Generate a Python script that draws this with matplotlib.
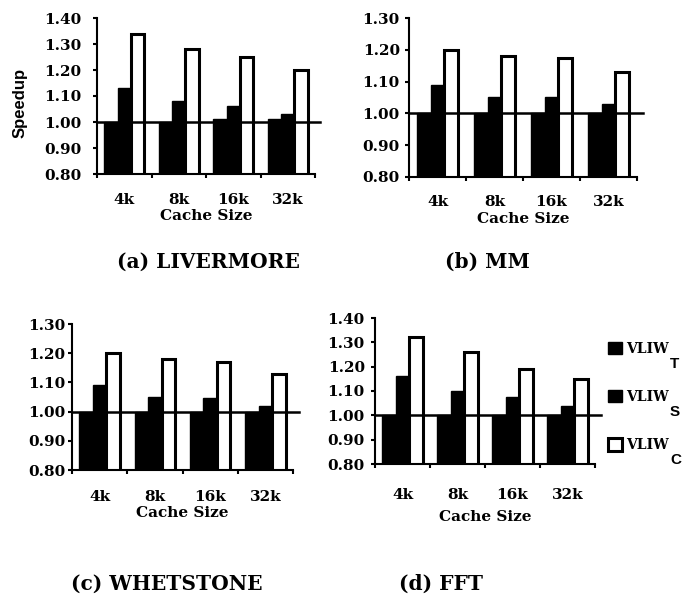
import matplotlib
matplotlib.use("Agg")
import matplotlib.pyplot as plt
import numpy as np

cache_sizes = ["4k", "8k", "16k", "32k"]
series_names = ["T", "S", "C"]

livermore_T = [1.00, 1.00, 1.01, 1.01]
livermore_S = [1.13, 1.08, 1.06, 1.03]
livermore_C = [1.34, 1.28, 1.25, 1.20]

mm_T = [1.00, 1.00, 1.00, 1.00]
mm_S = [1.09, 1.05, 1.05, 1.03]
mm_C = [1.20, 1.18, 1.175, 1.13]

whetstone_T = [1.00, 1.00, 1.00, 1.00]
whetstone_S = [1.09, 1.05, 1.045, 1.02]
whetstone_C = [1.20, 1.18, 1.17, 1.13]

fft_T = [1.00, 1.00, 1.00, 1.00]
fft_S = [1.16, 1.10, 1.075, 1.04]
fft_C = [1.32, 1.26, 1.19, 1.15]

titles = ["(a) LIVERMORE", "(b) MM", "(c) WHETSTONE", "(d) FFT"]
yticks_a = [0.80, 0.90, 1.00, 1.10, 1.20, 1.30, 1.40]
yticks_b = [0.80, 0.90, 1.00, 1.10, 1.20, 1.30]

SERIF = "DejaVu Serif"
SANS = "Liberation Sans"

W, H = 685, 598
fig = plt.figure(figsize=(W / 100, H / 100), dpi=100)


def rect(x0, y0, x1, y1):
    return [x0 / W, 1 - y1 / H, (x1 - x0) / W, (y1 - y0) / H]


# rect, T, S, C, yticks, title pos, ytick pad, xtick pad, xlabel pad
panels = [
    (rect(97, 18, 315, 174), livermore_T, livermore_S, livermore_C, yticks_a, (208, 262), 8.0, 14.0, 0.8),
    (rect(409, 18, 637, 177), mm_T, mm_S, mm_C, yticks_b, (487, 262), 3.6, 13.0, 2.3),
    (rect(72, 324, 293, 470), whetstone_T, whetstone_S, whetstone_C, yticks_b, (167, 584), 2.0, 14.4, 1.6),
    (rect(375, 318, 595, 464), fft_T, fft_S, fft_C, yticks_a, (441, 584), 4.3, 17.0, 5.9),
]

x = np.arange(len(cache_sizes))
bw = 0.245
handles = None
axes = []
for i, (r, tv, sv, cv, yt, tpos, ypad, xpad, lpad) in enumerate(panels):
    ax = fig.add_axes(r)
    axes.append(ax)
    b1 = ax.bar(x - bw, tv, bw, color="black", edgecolor="black", linewidth=1.0, zorder=2)
    b2 = ax.bar(x, sv, bw, color="black", edgecolor="black", linewidth=1.0, zorder=2)
    b3 = ax.bar(x + bw, cv, bw, color="white", edgecolor="black", linewidth=2.2, zorder=2)
    if handles is None:
        handles = [b1, b2, b3]
    ax.axhline(1.0, xmax=1.025, color="black", linewidth=1.8, zorder=3, clip_on=False)
    ax.set_ylim(yt[0], yt[-1])
    ax.set_xlim(-0.5, len(cache_sizes) - 0.5)
    ax.set_yticks(yt)
    ax.set_yticklabels([f"{v:.2f}" for v in yt], fontfamily=SERIF, fontweight="bold", fontsize=11)
    ax.set_xticks(np.arange(len(cache_sizes) + 1) - 0.5)
    ax.set_xticklabels([])
    ax.set_xticks(x, minor=True)
    ax.set_xticklabels(cache_sizes, minor=True, fontfamily=SERIF, fontweight="bold", fontsize=11)
    ax.tick_params(axis="x", which="minor", length=0, pad=xpad)
    ax.tick_params(axis="x", which="major", length=3, width=1.5, direction="out")
    ax.tick_params(axis="y", length=3, width=1.5, direction="out", pad=ypad)
    for s in ["top", "right"]:
        ax.spines[s].set_visible(False)
    for s in ["left", "bottom"]:
        ax.spines[s].set_linewidth(1.5)
    ax.set_xlabel("Cache Size", fontfamily=SERIF, fontweight="bold", fontsize=11, labelpad=lpad)
    fig.text(tpos[0] / W, 1 - tpos[1] / H, titles[i], ha="center", va="center",
             fontfamily=SERIF, fontweight="bold", fontsize=14.5)

axes[0].set_ylabel("Speedup", fontfamily=SANS, fontweight="bold", fontsize=12)
axes[0].yaxis.set_label_coords(-0.317, 0.455)

leg = fig.legend(handles, ["VLIW", "VLIW", "VLIW"], loc="upper left",
                 bbox_to_anchor=(608 / W, 1 - 342 / H), frameon=False,
                 borderpad=0, borderaxespad=0,
                 handlelength=1.0, handleheight=1.0, handletextpad=0.3,
                 labelspacing=2.45, prop={"family": SERIF, "weight": "bold", "size": 10})
fig.canvas.draw()
for txt, sub in zip(leg.get_texts(), series_names):
    axes[3].annotate(sub, xy=(1.0, 0.0), xycoords=txt, xytext=(0.8, -0.7), textcoords="offset points",
                     ha="left", va="top", fontfamily=SANS, fontweight="bold", fontsize=11,
                     annotation_clip=False)

fig.savefig("out.png", dpi=100)
